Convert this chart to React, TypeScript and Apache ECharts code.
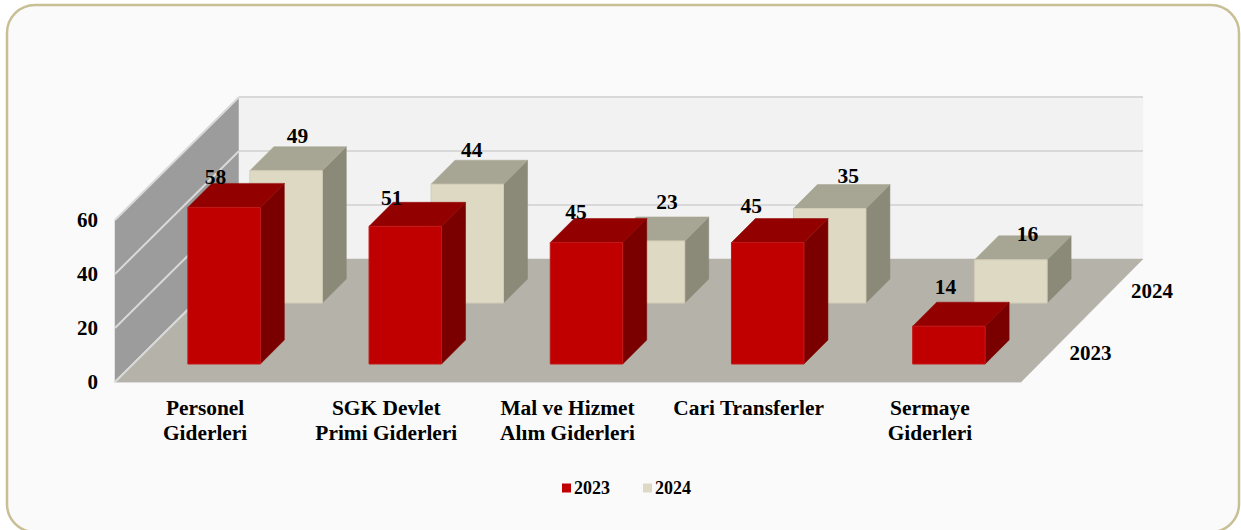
import React, { useEffect, useRef } from "react";
import * as echarts from "echarts";

const categories = [
  "Personel\nGiderleri",
  "SGK Devlet\nPrimi Giderleri",
  "Mal ve Hizmet\nAlım Giderleri",
  "Cari Transferler",
  "Sermaye\nGiderleri",
];
const values2023 = [58, 51, 45, 45, 14];
const values2024 = [49, 44, 23, 35, 16];
const yTicks = [0, 20, 40, 60];
const depthRows = ["2023", "2024"];

const FONT = '"Liberation Serif", "Times New Roman", serif';
const WALL_DX = 124;
const WALL_DY = 123;
const BAR_DEPTH = 24;
const BAR_RATIO = 0.4;

// hand placement of the value labels relative to the bar's front-top centre
const nudge2023 = [[-8, -30], [-13, -28], [-10, -31], [-16, -37], [-3, -39]];
const nudge2024 = [[12, -35], [5, -34], [19, -39], [19, -33], [17, -26]];

const palette2023 = { front: "#C00000", top: "#930000", side: "#7A0000", edge: "#C41818" };
const palette2024 = { front: "#DED9C3", top: "#A7A593", side: "#8B8A79", edge: "#D2CDB8" };

function poly(points: number[][], fill: string, stroke?: string) {
  return {
    type: "polygon",
    shape: { points },
    style: { fill, stroke: stroke || fill, lineWidth: stroke ? 1 : 0.5 },
  };
}

function barRenderer(palette: any, rowShift: number, nudges: number[][]) {
  return (params: any, api: any) => {
    const i = api.value(0);
    const v = api.value(1);
    const [cx, base0] = api.coord([i, 0]);
    const top0 = api.coord([i, v])[1];
    const w = api.size([1, 0])[0] * BAR_RATIO;
    const x0 = cx + rowShift + 0.5 - w / 2;
    const x1 = x0 + w;
    const base = base0 - rowShift + (rowShift > 40 ? 1 : 0);
    const top = base - (base0 - top0);
    const d = BAR_DEPTH;
    return {
      type: "group",
      children: [
        poly([[x1, top], [x1 + d, top - d], [x1 + d, base - d], [x1, base]], palette.side),
        poly([[x0, top], [x0 + d, top - d], [x1 + d, top - d], [x1, top]], palette.top),
        poly([[x0, top], [x1, top], [x1, base], [x0, base]], palette.front, palette.edge),
        {
          type: "text",
          z2: 10,
          style: {
            text: String(v),
            x: cx + rowShift + nudges[i][0],
            y: top + nudges[i][1],
            align: "center",
            verticalAlign: "middle",
            fill: "#000",
            font: `bold 21.5px ${FONT}`,
          },
        },
      ],
    };
  };
}

function wallRenderer(params: any, api: any) {
  const g = params.coordSys;
  const xL = g.x;
  const xR = g.x + g.width;
  const y0 = api.coord([0, 0])[1];
  const yTop = api.coord([0, 60])[1];
  const children: any[] = [
    poly(
      [[xL, y0], [xL, yTop], [xL + WALL_DX, yTop - WALL_DY], [xL + WALL_DX, y0 - WALL_DY]],
      "#9C9C9C"
    ),
    poly(
      [[xL + WALL_DX, yTop - WALL_DY], [xR + WALL_DX - 2, yTop - WALL_DY], [xR + WALL_DX - 2, y0 - WALL_DY], [xL + WALL_DX, y0 - WALL_DY]],
      "#F2F2F2"
    ),
  ];
  yTicks.forEach((t) => {
    const y = api.coord([0, t])[1];
    if (t > 0) {
      children.push({
        type: "line",
        shape: { x1: xL + WALL_DX, y1: y - WALL_DY, x2: xR + WALL_DX - 2, y2: y - WALL_DY },
        style: { stroke: "#D9D9D9", lineWidth: 2 },
      });
    }
    children.push({
      type: "line",
      shape: { x1: xL, y1: y, x2: xL + WALL_DX, y2: y - WALL_DY },
      style: { stroke: "#D9D9D9", lineWidth: 2 },
    });
  });
  children.push(
    poly(
      [[xL, y0], [xR, y0], [xR + WALL_DX - 2, y0 - WALL_DY], [xL + WALL_DX, y0 - WALL_DY]],
      "#B5B2A9"
    )
  );
  children.push({
    type: "line",
    shape: { x1: xL, y1: y0, x2: xL + WALL_DX, y2: y0 - WALL_DY },
    style: { stroke: "#D9D9D9", lineWidth: 2 },
  });
  depthRows.forEach((label, r) => {
    children.push({
      type: "text",
      style: {
        text: label,
        x: xR + 69.5 + r * 61.5,
        y: y0 - 29 - r * 62,
        align: "center",
        verticalAlign: "middle",
        fill: "#000",
        font: `bold 21px ${FONT}`,
      },
    });
  });
  return { type: "group", children };
}

export default function App() {
  const ref = useRef<HTMLDivElement>(null);
  useEffect(() => {
    document.body.style.margin = "0";
    document.body.style.background = "#fff";
    const chart = echarts.init(ref.current!, undefined, { renderer: "svg" });
    chart.setOption({
      animation: false,
      backgroundColor: "#FFFFFF",
      textStyle: { fontFamily: FONT },
      graphic: [
        {
          type: "rect",
          z: -10,
          silent: true,
          shape: { x: 7, y: 5, width: 1232, height: 527, r: 28 },
          style: { fill: "#FAFAFA", stroke: "#C8BF95", lineWidth: 2.5 },
        },
      ],
      grid: { left: 115, top: 220, width: 906, height: 162, containLabel: false },
      legend: {
        data: ["2023", "2024"],
        left: 557,
        top: 474,
        itemWidth: 9,
        itemHeight: 9,
        itemGap: 33,
        icon: "rect",
        textStyle: { fontFamily: FONT, fontWeight: "bold", fontSize: 18, color: "#000", padding: [0, 0, 0, -2] },
      },
      xAxis: {
        type: "category",
        data: categories,
        axisTick: { show: false },
        axisLine: { show: true, lineStyle: { color: "#E4E4E4", width: 1.5 } },
        axisLabel: {
          interval: 0,
          margin: 13,
          color: "#000",
          fontFamily: FONT,
          fontWeight: "bold",
          fontSize: 21.4,
          lineHeight: 25,
          verticalAlign: "top",
          padding: [0, 1, 0, 0],
        },
      },
      yAxis: {
        type: "value",
        min: 0,
        max: 60,
        interval: 20,
        axisLine: { show: false },
        axisTick: { show: false },
        splitLine: { show: false },
        axisLabel: {
          margin: 17,
          color: "#000",
          fontFamily: FONT,
          fontWeight: "bold",
          fontSize: 21,
          padding: [4, 0, 0, 0],
        },
      },
      series: [
        {
          name: "walls",
          type: "custom",
          silent: true,
          renderItem: wallRenderer,
          data: [[0, 0]],
          encode: { x: 0, y: 1 },
        },
        {
          name: "2024",
          type: "custom",
          renderItem: barRenderer(palette2024, 80, nudge2024),
          itemStyle: { color: palette2024.front },
          data: values2024.map((v, i) => [i, v]),
          encode: { x: 0, y: 1 },
        },
        {
          name: "2023",
          type: "custom",
          renderItem: barRenderer(palette2023, 18, nudge2023),
          itemStyle: { color: palette2023.front },
          data: values2023.map((v, i) => [i, v]),
          encode: { x: 0, y: 1 },
        },
      ],
    });
    return () => chart.dispose();
  }, []);
  return <div ref={ref} style={{ width: 1241, height: 530 }} />;
}
